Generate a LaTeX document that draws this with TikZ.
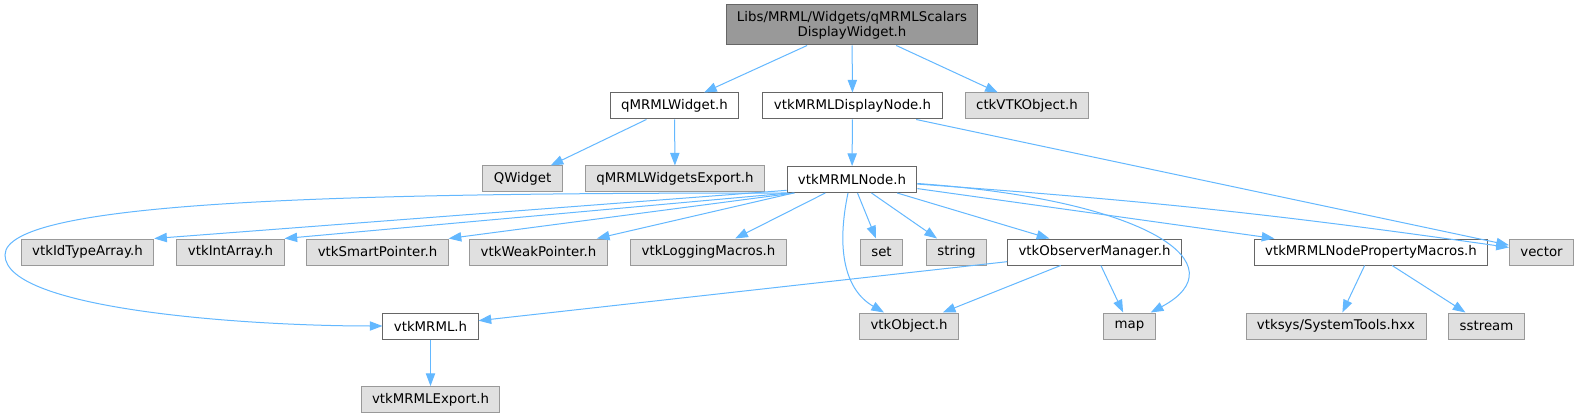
\documentclass[tikz,border=0pt]{standalone}
\usepackage{fontspec}
\setmainfont{DejaVu Sans}
\usepackage{xcolor}
\usepackage{tikz}
\usetikzlibrary{arrows.meta}
\definecolor{edgeblue}{HTML}{63B8FF}
\definecolor{extgray}{HTML}{E0E0E0}
\definecolor{midgray}{HTML}{999999}
\definecolor{framegray}{HTML}{666666}

\begin{document}
\begin{tikzpicture}[x=0.75pt, y=-0.75pt, every node/.style={rectangle, draw, line width=0.75pt, font=\fontsize{10}{11.5}\selectfont, minimum height=19.5pt, inner xsep=8.2pt, inner ysep=0pt}, incl/.style={fill=white, draw=framegray}, ext/.style={fill=extgray, draw=midgray}, topfile/.style={fill=midgray, draw=framegray, align=center, minimum height=30pt}, dep/.style={draw=edgeblue, line width=0.75pt, -{Triangle[length=9.5pt, width=7pt]}}]
  \useasboundingbox[fill=white] (0,0) rectangle (1578,417);
  \node[topfile](root) at (852,25) {Libs/MRML/Widgets/qMRMLScalars\\DisplayWidget.h};
  \node[incl](qwidget) at (674.5,106) {qMRMLWidget.h};
  \node[incl](dispnode) at (852.5,106) {vtkMRMLDisplayNode.h};
  \node[ext](ctkobj) at (1027,106) {ctkVTKObject.h};
  \node[ext](qtwidget) at (522.5,179) {QWidget};
  \node[ext](qexport) at (675,179) {qMRMLWidgetsExport.h};
  \node[incl](mrmlnode) at (852,179.5) {vtkMRMLNode.h};
  \node[ext](idtype) at (87.5,252) {vtkIdTypeArray.h};
  \node[ext](intarr) at (230.5,252) {vtkIntArray.h};
  \node[ext](smartptr) at (377.5,252) {vtkSmartPointer.h};
  \node[ext](weakptr) at (538.5,252) {vtkWeakPointer.h};
  \node[ext](logmacro) at (708.5,252) {vtkLoggingMacros.h};
  \node[ext](set) at (881.5,252) {set};
  \node[ext](string) at (956.5,252) {string};
  \node[incl](obsmgr) at (1094.5,252) {vtkObserverManager.h};
  \node[incl](propmacro) at (1371,252) {vtkMRMLNodePropertyMacros.h};
  \node[ext](vector) at (1541.5,252) {vector};
  \node[incl](mrml) at (430.5,326) {vtkMRML.h};
  \node[ext](vtkobj) at (909,326) {vtkObject.h};
  \node[ext](map) at (1129.5,326) {map};
  \node[ext](systools) at (1336,326) {vtksys/SystemTools.hxx};
  \node[ext](sstream) at (1486.5,326) {sstream};
  \node[ext](mrmlexport) at (430.5,399.5) {vtkMRMLExport.h};

  \draw[dep] (root) -- (qwidget);
  \draw[dep] (root) -- (dispnode);
  \draw[dep] (root) -- (ctkobj);
  \draw[dep] (qwidget) -- (qtwidget);
  \draw[dep] (qwidget) -- (qexport);
  \draw[dep] (dispnode) -- (mrmlnode);
  \draw[dep] (dispnode) -- (vector);
  \draw[dep] (mrmlnode.south west) .. controls (350,193) and (5,200) .. (5,255) .. controls (5,310) and (250,326) .. (mrml.west);
  \draw[dep] ([yshift=2pt]mrmlnode.south west) -- (idtype.north east);
  \draw[dep] ([xshift=2pt]mrmlnode.south west) -- (intarr.north east);
  \draw[dep] ([xshift=6pt]mrmlnode.south west) -- (smartptr.north east);
  \draw[dep] (mrmlnode) -- (weakptr);
  \draw[dep] (mrmlnode) -- (logmacro);
  \draw[dep] ([xshift=-3pt]mrmlnode.south) .. controls (836,250) and (845,290) .. ([xshift=-18.75pt]vtkobj.north);
  \draw[dep] (mrmlnode) -- (set);
  \draw[dep] (mrmlnode) -- (string);
  \draw[dep] (mrmlnode) -- (obsmgr);
  \draw[dep] ([yshift=-3pt]mrmlnode.east) .. controls (1150,200) and (1240,265) .. ([xshift=-3.75pt]map.north east);
  \draw[dep] (mrmlnode) -- (propmacro);
  \draw[dep] (mrmlnode) to[bend left=2] (vector);
  \draw[dep] (obsmgr) -- (mrml);
  \draw[dep] (obsmgr) -- (vtkobj);
  \draw[dep] (obsmgr) -- (map);
  \draw[dep] (propmacro) -- (systools);
  \draw[dep] (propmacro) -- (sstream);
  \draw[dep] (mrml) -- (mrmlexport);
\end{tikzpicture}
\end{document}
